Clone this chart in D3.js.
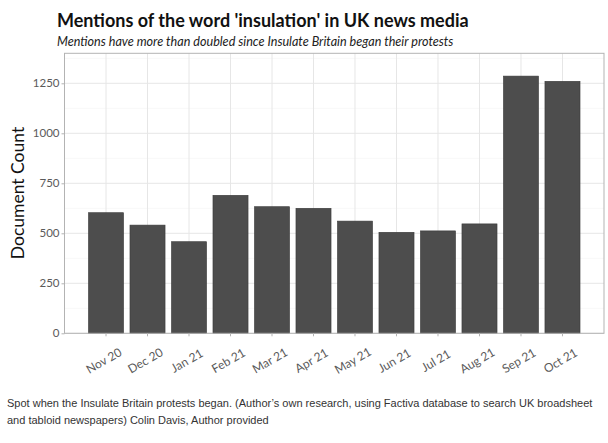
<!DOCTYPE html>
<html lang="en">
<head>
  <meta charset="UTF-8">
  <title>Mentions of the word 'insulation'</title>
  <script src="https://d3js.org/d3.v7.min.js"></script>
  <style>
    body { margin: 0; background: white; }
    svg { display: block; }
    .title { font-family: Lato, sans-serif; font-weight: bold; fill: #111; }
    .subtitle { font-family: Lato, sans-serif; font-style: italic; fill: #222; }
    .tick text { font-family: Lato, sans-serif; fill: #5a5a5a; }
    .caption { font-family: "Liberation Sans", Arial, sans-serif; font-size: 11px; fill: #333; }
  </style>
</head>
<body>
  <svg id="chart"></svg>

  <script>
    const months = ["Nov 20", "Dec 20", "Jan 21", "Feb 21", "Mar 21", "Apr 21",
                    "May 21", "Jun 21", "Jul 21", "Aug 21", "Sep 21", "Oct 21"];
    const counts = [603, 541, 458, 690, 633, 625, 561, 505, 512, 547, 1286, 1260];
    const yTicks = [0, 250, 500, 750, 1000, 1250];
    const yMinor = [125, 375, 625, 875, 1125, 1375];

    const width = 608, height = 443;
    const pLeft = 64.5, pRight = 604, pTop = 53.3, pBottom = 333.3;

    const svg = d3.select("#chart").attr("width", width).attr("height", height);

    const x = d3.scaleBand().domain(months).range([pLeft, pRight])
      .paddingInner(0.155).paddingOuter(0.578);
    const y = d3.scaleLinear().domain([0, 1400]).range([pBottom, pTop]);

    // grid
    const grid = svg.append("g");
    grid.selectAll("line.minor").data(yMinor).enter().append("line")
      .attr("x1", pLeft).attr("x2", pRight)
      .attr("y1", d => y(d)).attr("y2", d => y(d))
      .attr("stroke", "#f2f2f2").attr("stroke-width", 0.6);
    grid.selectAll("line.major").data(yTicks).enter().append("line")
      .attr("x1", pLeft).attr("x2", pRight)
      .attr("y1", d => y(d)).attr("y2", d => y(d))
      .attr("stroke", "#e6e6e6").attr("stroke-width", 1);
    grid.selectAll("line.vert").data(months).enter().append("line")
      .attr("x1", d => x(d) + x.bandwidth() / 2).attr("x2", d => x(d) + x.bandwidth() / 2)
      .attr("y1", pTop).attr("y2", pBottom)
      .attr("stroke", "#e6e6e6").attr("stroke-width", 1);

    // bars
    svg.append("g").selectAll("rect").data(counts).enter().append("rect")
      .attr("x", (d, i) => x(months[i]))
      .attr("y", d => y(d))
      .attr("width", x.bandwidth())
      .attr("height", d => pBottom - y(d))
      .attr("fill", "#4d4d4d")
      .attr("stroke", "#3a3a3a").attr("stroke-width", 0.6);

    // panel border
    svg.append("rect")
      .attr("x", pLeft).attr("y", pTop)
      .attr("width", pRight - pLeft).attr("height", pBottom - pTop)
      .attr("fill", "none").attr("stroke", "#b3b3b3").attr("stroke-width", 1);

    // axes
    const yAxis = svg.append("g").attr("transform", `translate(${pLeft},0)`)
      .call(d3.axisLeft(y).tickValues(yTicks).tickFormat(d3.format("d")).tickSize(3).tickPadding(2));
    yAxis.select(".domain").remove();
    yAxis.selectAll(".tick line").attr("stroke", "#b3b3b3");
    yAxis.selectAll(".tick text").attr("font-size", 11.5);

    const xAxis = svg.append("g").attr("transform", `translate(0,${pBottom})`)
      .call(d3.axisBottom(x).tickSize(3).tickSizeOuter(0));
    xAxis.select(".domain").remove();
    xAxis.selectAll(".tick line").attr("stroke", "#b3b3b3");
    xAxis.selectAll(".tick text")
      .attr("font-size", 12)
      .attr("text-anchor", "middle")
      .attr("dy", null)
      .attr("y", 0)
      .attr("transform", "translate(0,31) rotate(-30)");

    // y label
    svg.append("text")
      .attr("transform", `translate(24,193) rotate(-90)`)
      .attr("text-anchor", "middle")
      .attr("font-family", "Lato, sans-serif")
      .attr("font-size", 17.5)
      .attr("fill", "#111")
      .text("Document Count");

    // titles
    svg.append("text").attr("class", "title")
      .attr("x", 57).attr("y", 27)
      .attr("font-size", 18)
      .text("Mentions of the word 'insulation' in UK news media");
    svg.append("text").attr("class", "subtitle")
      .attr("x", 57).attr("y", 46)
      .attr("font-size", 12.6)
      .text("Mentions have more than doubled since Insulate Britain began their protests");

    // caption
    const captionLines = [
      "Spot when the Insulate Britain protests began. (Author\u2019s own research, using Factiva database to search UK broadsheet",
      "and tabloid newspapers) Colin Davis, Author provided"
    ];
    svg.append("g").selectAll("text").data(captionLines).enter().append("text")
      .attr("class", "caption")
      .attr("x", 7).attr("y", (d, i) => 407 + i * 17)
      .text(d => d);
  </script>
</body>
</html>
